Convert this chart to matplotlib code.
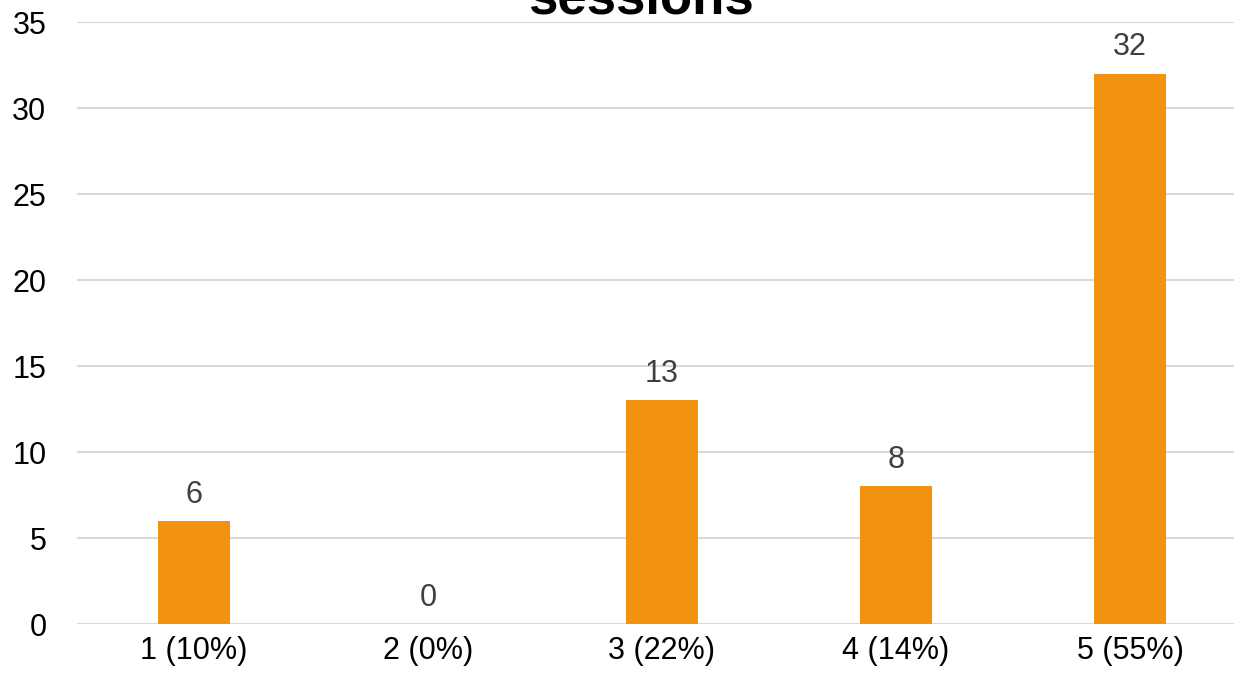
import numpy as np
import matplotlib.pyplot as plt

plt.rcParams['font.family'] = ['Liberation Sans', 'DejaVu Sans']

categories = ['1 (10%)', '2 (0%)', '3 (22%)', '4 (14%)', '5 (55%)']
counts = [6, 0, 13, 8, 32]
title = 'sessions'

fig = plt.figure(figsize=(12.34, 6.8), dpi=100)
# axes run slightly past the right edge like in the source
ax = fig.add_axes([77/1234, 56/680, 1170/1234, 602/680])

x = np.arange(len(categories))
bars = ax.bar(x, counts, width=0.31, color='#F39110', zorder=3)

for xi, v in zip(x, counts):
    ax.annotate(str(v), (xi, v), xytext=(0, 8), textcoords='offset points',
                ha='center', va='bottom', fontsize=22, color='#404040')

ax.set_xlim(-0.5, len(categories) - 0.5)
ax.set_ylim(0, 35)
ax.set_yticks(np.arange(0, 36, 5))
ax.set_xticks(x)
ax.set_xticklabels(categories)
ax.yaxis.grid(True, color='#D9D9D9', linewidth=1.5, zorder=0)
ax.tick_params(axis='both', length=0, labelsize=22, colors='black')
ax.tick_params(axis='y', pad=22)
ax.tick_params(axis='x', pad=9)
for s in ax.spines.values():
    s.set_visible(False)

fig.text(641/1234, 1 - 13/680, title, ha='center', va='baseline',
         fontsize=38, fontweight='bold')

fig.savefig('out.png', dpi=100)
